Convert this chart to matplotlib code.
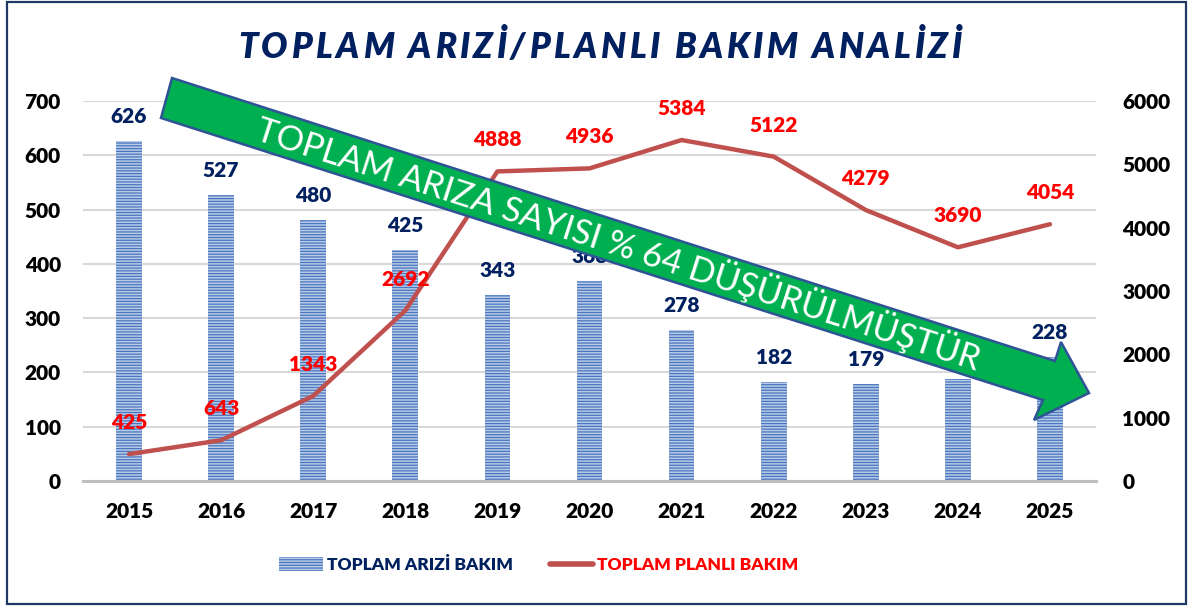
import numpy as np
import matplotlib
matplotlib.use("Agg")
import matplotlib.pyplot as plt
from matplotlib.patches import Polygon, Rectangle, Patch
from matplotlib.lines import Line2D

plt.rcParams['font.family'] = ['Lato', 'DejaVu Sans']
plt.rcParams['hatch.linewidth'] = 0.9

# ---- data ----
years = ['2015', '2016', '2017', '2018', '2019', '2020', '2021', '2022', '2023', '2024', '2025']
ariza = [626, 527, 480, 425, 343, 368, 278, 182, 179, 187, 228]
planli = [425, 643, 1343, 2692, 4888, 4936, 5384, 5122, 4279, 3690, 4054]
left_ticks = [0, 100, 200, 300, 400, 500, 600, 700]
right_ticks = [0, 1000, 2000, 3000, 4000, 5000, 6000]
title_text = "TOPLAM ARIZİ/PLANLI BAKIM ANALİZİ"
arrow_text = "TOPLAM ARIZA SAYISI % 64 DÜŞÜRÜLMÜŞTÜR"
legend_labels = ["TOPLAM ARIZİ BAKIM", "TOPLAM PLANLI BAKIM"]

NAVY = '#002060'
RED = '#ff0000'
LINE = '#c0504d'
BAR_FACE = '#b7cae8'
BAR_HATCH = '#4a76bd'
WT = 800

W, H = 1188, 607
fig = plt.figure(figsize=(W / 100, H / 100), dpi=100)

ax = fig.add_axes([83 / W, 1 - 481 / H, (1096 - 83) / W, (481 - 101) / H])
x = np.arange(len(years))
ax.bar(x, ariza, width=0.28, color=BAR_FACE, edgecolor=BAR_HATCH,
       hatch='------', linewidth=0, zorder=2)
ax.set_xlim(-0.5, len(years) - 0.5)
ax.set_ylim(0, 700)
ax.set_yticks(left_ticks)
ax.set_xticks(x)
ax.set_xticklabels(years)
ax.yaxis.grid(True, color='#d9d9d9', linewidth=1.5, zorder=0)
ax.set_axisbelow(True)
for s in ['top', 'left', 'right']:
    ax.spines[s].set_visible(False)
ax.spines['bottom'].set_color('#bfbfbf')
ax.spines['bottom'].set_linewidth(2.2)
ax.tick_params(axis='y', length=0, pad=16, labelsize=15)
ax.tick_params(axis='x', length=0, pad=15, labelsize=15)
for lab in ax.get_xticklabels() + ax.get_yticklabels():
    lab.set_fontweight(WT)

for xi, v in zip(x, ariza):
    ax.annotate(str(v), (xi, v), xytext=(0, 13), textcoords='offset points',
                ha='center', va='baseline', fontsize=15, fontweight=WT,
                color=NAVY, zorder=3)

ax2 = ax.twinx()
ax2.plot(x, planli, color=LINE, linewidth=3.2, solid_capstyle='round', zorder=3)
ax2.set_ylim(0, 6000)
ax2.set_yticks(right_ticks)
for s in ['top', 'left', 'right', 'bottom']:
    ax2.spines[s].set_visible(False)
ax2.tick_params(axis='y', length=0, pad=19, labelsize=15)
for lab in ax2.get_yticklabels():
    lab.set_fontweight(WT)
for xi, v in zip(x, planli):
    ax2.annotate(str(v), (xi, v), xytext=(0, 18), textcoords='offset points',
                 ha='center', va='baseline', fontsize=15, fontweight=WT,
                 color=RED, zorder=4)

# ---- legend ----
handles = [Patch(facecolor=BAR_FACE, edgecolor=BAR_HATCH, hatch='------', linewidth=0),
           Line2D([0], [0], color=LINE, linewidth=4, solid_capstyle='round')]
leg = fig.legend(handles, legend_labels, loc='center', bbox_to_anchor=(539 / W, 1 - 565 / H),
                 ncol=2, frameon=False, prop={'size': 12.5, 'weight': WT},
                 handlelength=2.5, handleheight=0.85, handletextpad=0.25, columnspacing=2.1)
leg.get_texts()[0].set_color(NAVY)
leg.get_texts()[1].set_color(RED)

# ---- overlay (pixel coordinates) ----
ov = fig.add_axes([0, 0, 1, 1], zorder=10)
ov.set_xlim(0, W)
ov.set_ylim(H, 0)
ov.axis('off')
ov.patch.set_alpha(0)

ov.add_patch(Rectangle((7, 2), 1179, 602, fill=False, edgecolor='#1f3864', linewidth=1.6))

arrow_pts = [(172, 78), (1055, 361), (1061, 342), (1089, 393),
             (1034, 420), (1043, 400), (161, 118)]
ov.add_patch(Polygon(arrow_pts, closed=True, facecolor='#00b050',
                     edgecolor='#2f5496', linewidth=1.8, zorder=5))

renderer = fig.canvas.get_renderer()

# arrow text, fitted to the measured length
t = ov.text(0, 0, arrow_text, fontsize=20, color='white')
w = t.get_window_extent(renderer).width
t.remove()
fs = 20 * 755 / w
ang = np.degrees(np.arctan(0.3205))
ov.text(619, 243, arrow_text, fontsize=fs, color='white', rotation=-ang,
        rotation_mode='anchor', ha='center', va='center', zorder=6,
        clip_on=False)

# title with letter spacing
tfs = 25
def width_of(s):
    tt = ov.text(0, 0, s, fontsize=tfs, fontweight=WT, fontstyle='italic')
    ww = tt.get_window_extent(renderer).width
    tt.remove()
    return ww
base = width_of('||')
advs = [width_of('|' + c + '|') - base for c in title_text]
track = (723 - sum(advs[:-1]) - advs[-1]) / (len(title_text) - 1)
cx = 238
for c, a in zip(title_text, advs):
    ov.text(cx, 58, c, fontsize=tfs, fontweight=WT, fontstyle='italic',
            color=NAVY, ha='left', va='baseline')
    cx += a + track

fig.savefig('out.png', dpi=100)
